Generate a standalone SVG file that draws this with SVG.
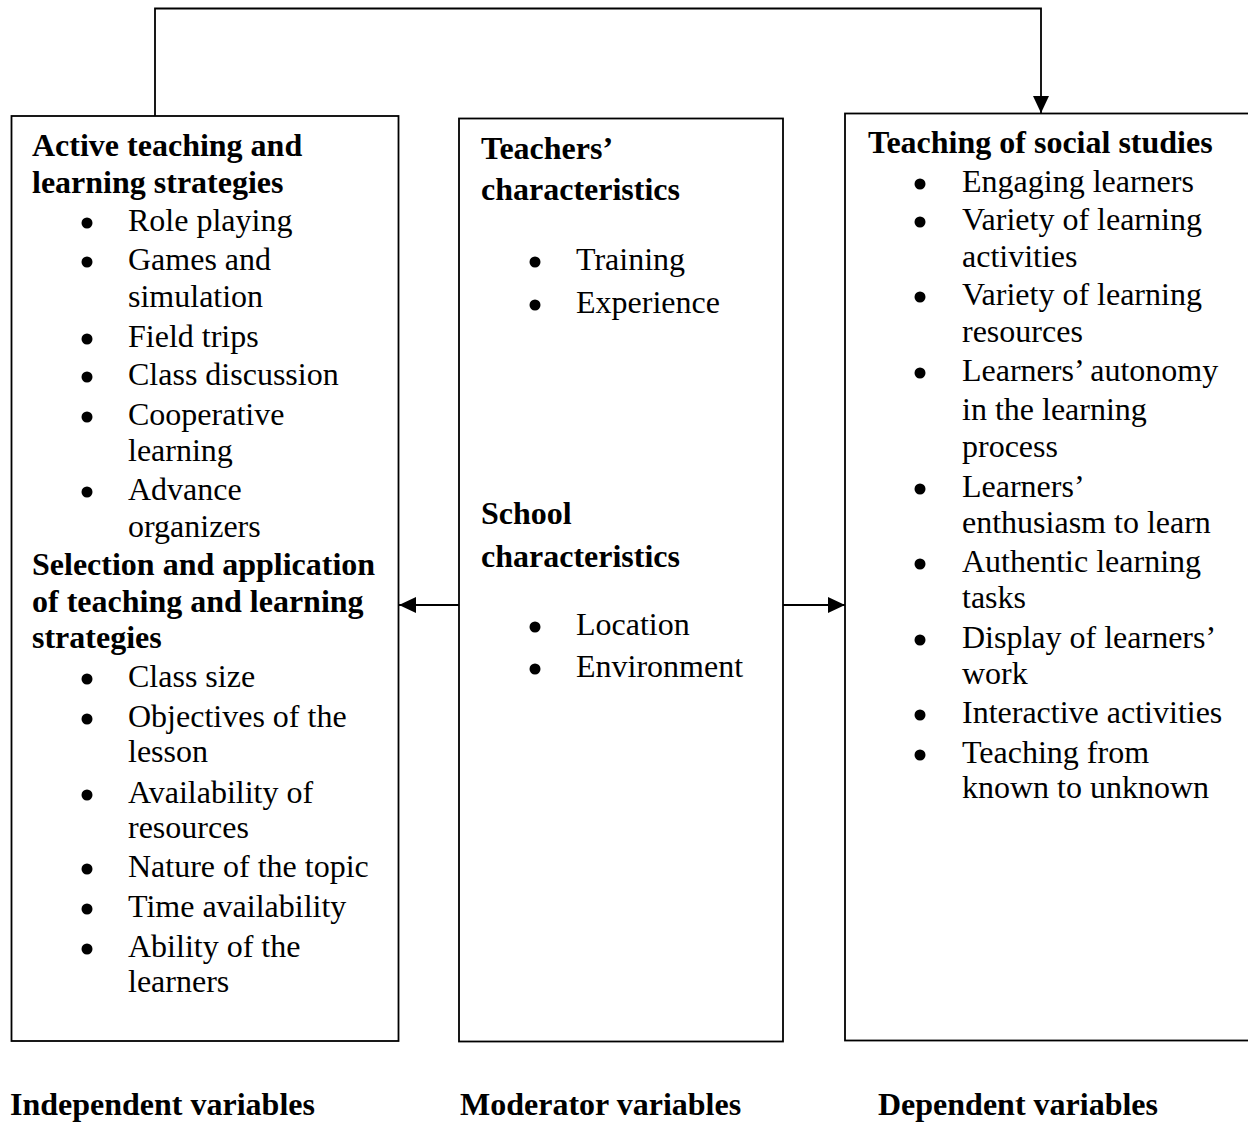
<svg xmlns="http://www.w3.org/2000/svg" width="1248" height="1122" viewBox="0 0 1248 1122">
<style>
.box{fill:#fff;stroke:#000;stroke-width:1.8}
.conn{fill:none;stroke:#000;stroke-width:1.8}
text{font-family:"Liberation Serif","Times New Roman",serif;font-size:32px;fill:#000}
.b{font-weight:bold}
.dot{fill:#000}
</style>
<defs>
<marker id="ah" markerUnits="userSpaceOnUse" markerWidth="18" markerHeight="16" refX="17" refY="8" orient="auto">
<path d="M0,0 L17,8 L0,16 Z" fill="#000"/>
</marker>
</defs>
<rect x="0" y="0" width="1248" height="1122" fill="#fff"/>

<g id="connectors">
<path class="conn" d="M155,116 V8.5 H1041 V113" marker-end="url(#ah)"/>
<path class="conn" d="M459,605 H399" marker-end="url(#ah)"/>
<path class="conn" d="M783,605 H845" marker-end="url(#ah)"/>
</g>

<g id="independent">
<rect class="box" x="11.5" y="116" width="387" height="925"/>
<text class="b" x="32" y="156">Active teaching and</text>
<text class="b" x="32" y="193">learning strategies</text>
<circle class="dot" cx="87" cy="223" r="5.5"/><text x="128" y="231">Role playing</text>
<circle class="dot" cx="87" cy="262" r="5.5"/><text x="128" y="270">Games and</text>
<text x="128" y="307">simulation</text>
<circle class="dot" cx="87" cy="339" r="5.5"/><text x="128" y="347">Field trips</text>
<circle class="dot" cx="87" cy="377" r="5.5"/><text x="128" y="385">Class discussion</text>
<circle class="dot" cx="87" cy="417" r="5.5"/><text x="128" y="425">Cooperative</text>
<text x="128" y="461">learning</text>
<circle class="dot" cx="87" cy="492" r="5.5"/><text x="128" y="500">Advance</text>
<text x="128" y="537">organizers</text>
<text class="b" x="32" y="575">Selection and application</text>
<text class="b" x="32" y="612">of teaching and learning</text>
<text class="b" x="32" y="648">strategies</text>
<circle class="dot" cx="87" cy="679" r="5.5"/><text x="128" y="687">Class size</text>
<circle class="dot" cx="87" cy="719" r="5.5"/><text x="128" y="727">Objectives of the</text>
<text x="128" y="762">lesson</text>
<circle class="dot" cx="87" cy="795" r="5.5"/><text x="128" y="803">Availability of</text>
<text x="128" y="838">resources</text>
<circle class="dot" cx="87" cy="869" r="5.5"/><text x="128" y="877">Nature of the topic</text>
<circle class="dot" cx="87" cy="909" r="5.5"/><text x="128" y="917">Time availability</text>
<circle class="dot" cx="87" cy="949" r="5.5"/><text x="128" y="957">Ability of the</text>
<text x="128" y="992">learners</text>
</g>

<g id="moderator">
<rect class="box" x="459" y="118.5" width="324" height="923"/>
<text class="b" x="481" y="159">Teachers’</text>
<text class="b" x="481" y="200">characteristics</text>
<circle class="dot" cx="535" cy="262" r="5.5"/><text x="576" y="270">Training</text>
<circle class="dot" cx="535" cy="305" r="5.5"/><text x="576" y="313">Experience</text>
<text class="b" x="481" y="524">School</text>
<text class="b" x="481" y="567">characteristics</text>
<circle class="dot" cx="535" cy="627" r="5.5"/><text x="576" y="635">Location</text>
<circle class="dot" cx="535" cy="669" r="5.5"/><text x="576" y="677">Environment</text>
</g>

<g id="dependent">
<rect class="box" x="845" y="113.5" width="420" height="927"/>
<text class="b" x="868" y="153">Teaching of social studies</text>
<circle class="dot" cx="920" cy="184" r="5.5"/><text x="962" y="192">Engaging learners</text>
<circle class="dot" cx="920" cy="222" r="5.5"/><text x="962" y="230">Variety of learning</text>
<text x="962" y="267">activities</text>
<circle class="dot" cx="920" cy="297" r="5.5"/><text x="962" y="305">Variety of learning</text>
<text x="962" y="342">resources</text>
<circle class="dot" cx="920" cy="373" r="5.5"/><text x="962" y="381">Learners’ autonomy</text>
<text x="962" y="420">in the learning</text>
<text x="962" y="457">process</text>
<circle class="dot" cx="920" cy="489" r="5.5"/><text x="962" y="497">Learners’</text>
<text x="962" y="533">enthusiasm to learn</text>
<circle class="dot" cx="920" cy="564" r="5.5"/><text x="962" y="572">Authentic learning</text>
<text x="962" y="608">tasks</text>
<circle class="dot" cx="920" cy="640" r="5.5"/><text x="962" y="648">Display of learners’</text>
<text x="962" y="684">work</text>
<circle class="dot" cx="920" cy="715" r="5.5"/><text x="962" y="723">Interactive activities</text>
<circle class="dot" cx="920" cy="755" r="5.5"/><text x="962" y="763">Teaching from</text>
<text x="962" y="798">known to unknown</text>
</g>

<g id="labels">
<text class="b" x="10" y="1115">Independent variables</text>
<text class="b" x="460" y="1115">Moderator variables</text>
<text class="b" x="878" y="1115">Dependent variables</text>
</g>
</svg>
